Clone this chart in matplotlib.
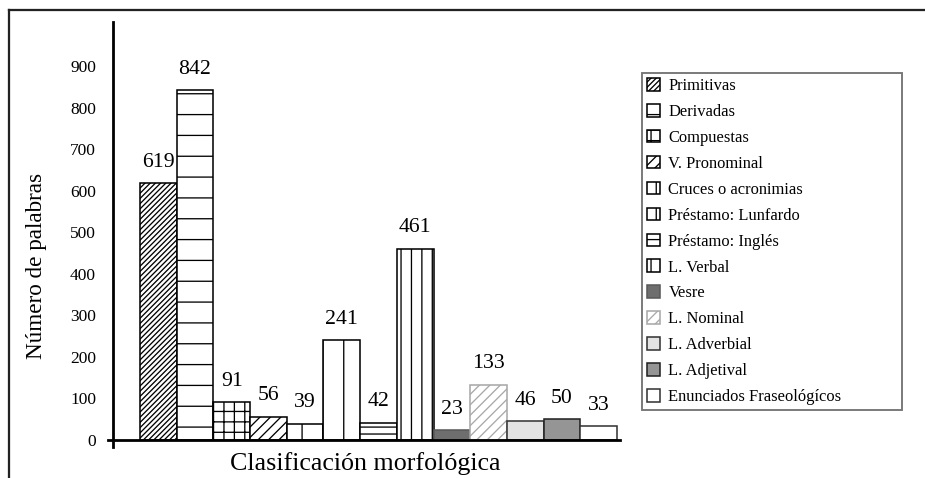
import matplotlib
matplotlib.use("Agg")
import matplotlib.pyplot as plt
from matplotlib.lines import Line2D

# Word-formation categories and the number of words in each
categories = [
    "Primitivas", "Derivadas", "Compuestas", "V. Pronominal",
    "Cruces o acronimias", "Préstamo: Lunfardo", "Préstamo: Inglés",
    "L. Verbal", "Vesre", "L. Nominal", "L. Adverbial", "L. Adjetival",
    "Enunciados Fraseológícos",
]
values = [619, 842, 91, 56, 39, 241, 42, 461, 23, 133, 46, 50, 33]
yticks = [0, 100, 200, 300, 400, 500, 600, 700, 800, 900]

# Fill style of each bar
hatches = ["////////", "-", "++", "////", "|", "|", "---", "||", "", "////", "", "", ""]
faces = ["white"] * 8 + ["#6e6e6e", "white", "#e3e3e3", "#959595", "white"]
edges = ["black"] * 8 + ["#5a5a5a", "#a8a8a8", "#333333", "#222222", "#333333"]

plt.rcParams["font.family"] = ["Liberation Serif", "DejaVu Serif"]
plt.rcParams["hatch.linewidth"] = 0.75

W, H, DPI = 925, 478, 125
fig = plt.figure(figsize=(W / DPI, H / DPI), dpi=DPI)
ax = fig.add_axes([108 / W, (H - 447) / H, 512 / W, 425 / H])

x = list(range(len(values)))
bars = ax.bar(x, values, width=1.0, color=faces, edgecolor=edges,
              linewidth=0.9, label=categories)
for b, h in zip(bars, hatches):
    b.set_hatch(h)

ax.bar_label(bars, labels=[str(v) for v in values], padding=6.5, fontsize=12.5)

ax.set_xlim(-1.372, 12.58)
ax.set_ylim(-17, 1007)
ax.set_xticks([])
ax.set_yticks(yticks)
ax.set_yticklabels([str(t) for t in yticks], fontsize=12)
ax.tick_params(axis="y", length=0, pad=17 / DPI * 72)

for s in ("top", "right"):
    ax.spines[s].set_visible(False)
ax.spines["left"].set_position(("data", -1.236))
ax.spines["bottom"].set_position(("data", 0))
ax.spines["left"].set_linewidth(1.6)
ax.spines["bottom"].set_linewidth(1.6)

ax.set_ylabel("Número de palabras", fontsize=13.3)
ax.yaxis.set_label_coords(-0.1387, 0.426)
ax.yaxis.label.set_va("center")
ax.set_xlabel("Clasificación morfológica", fontsize=15)
ax.xaxis.set_label_coords(0.502, -0.038)
ax.xaxis.label.set_va("center")

leg = fig.legend(
    handles=list(bars), labels=categories, loc="upper left",
    bbox_to_anchor=(642 / W, 1 - 73 / H, 260 / W, 0.0), mode="expand",
    fontsize=9.5, handlelength=0.8, handleheight=0.8, handletextpad=0.5,
    labelspacing=0.6, borderpad=0.3, borderaxespad=0.0,
    fancybox=False, frameon=True,
)
leg.get_frame().set_edgecolor("#555555")
leg.get_frame().set_linewidth(1.1)

# Page frame along the top and left edges
fig.add_artist(Line2D([9 / W, 1.0], [1 - 10 / H, 1 - 10 / H],
                      transform=fig.transFigure, color="#222222", lw=1.3))
fig.add_artist(Line2D([9 / W, 9 / W], [0.0, 1 - 10 / H],
                      transform=fig.transFigure, color="#222222", lw=1.3))

fig.savefig("out.png", dpi=DPI, facecolor="white")
